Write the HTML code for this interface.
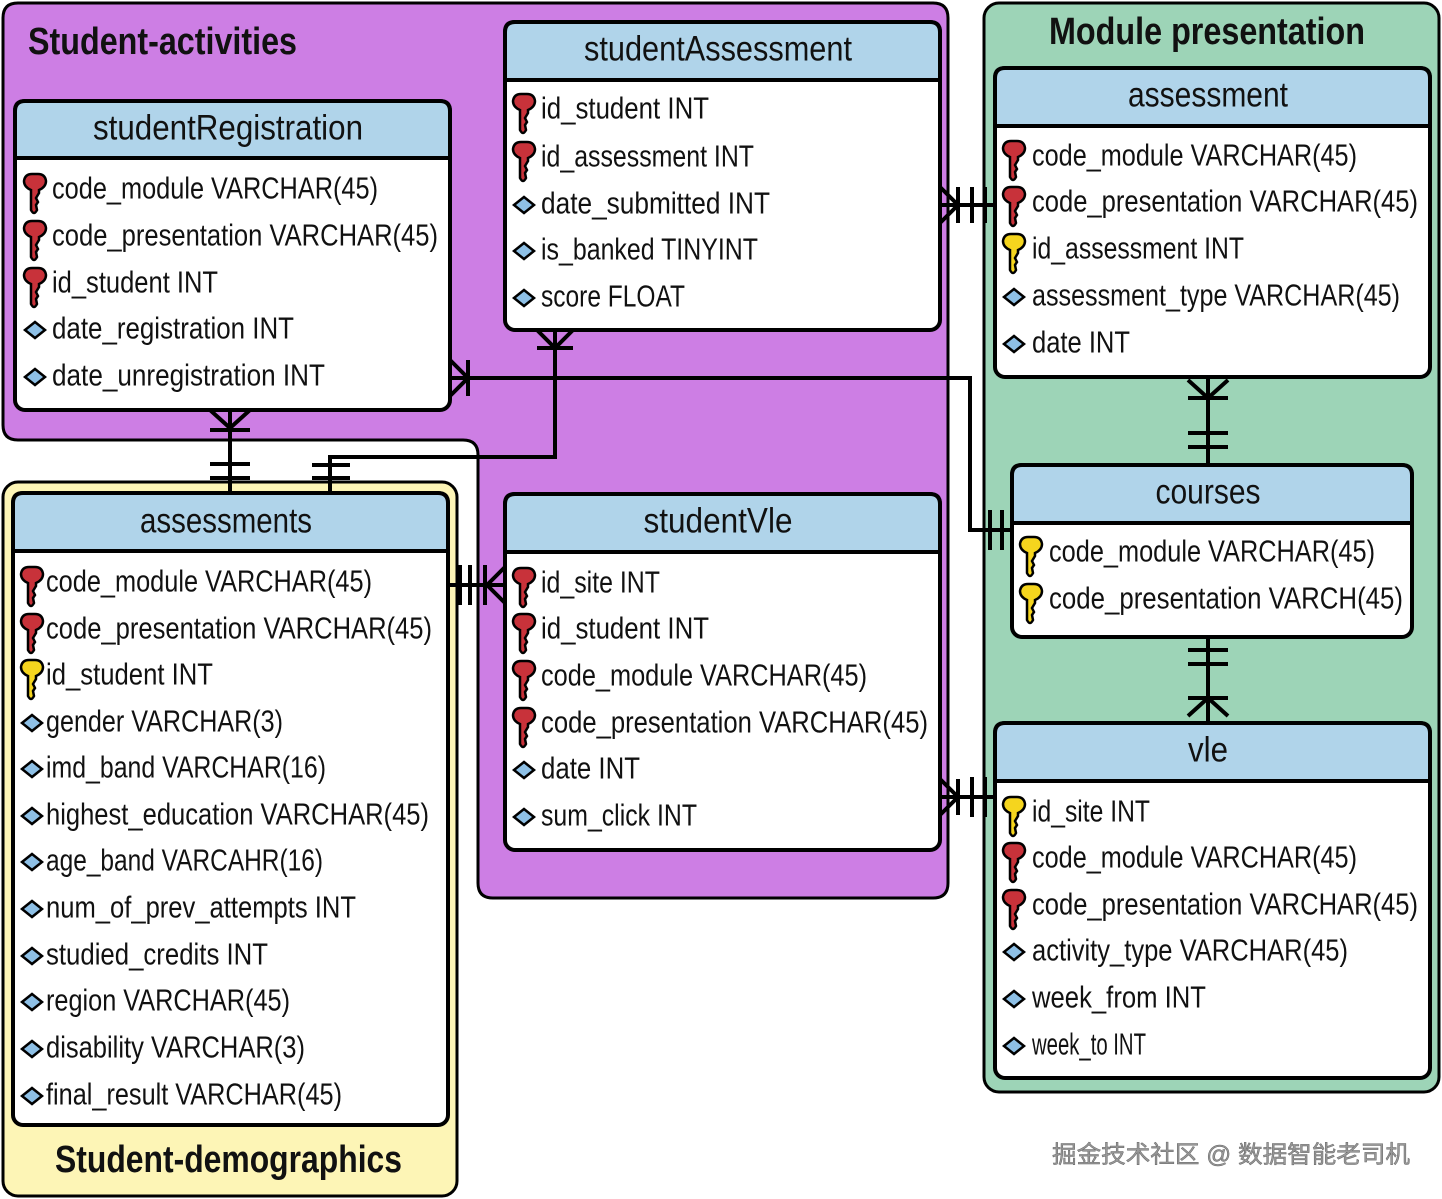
<!DOCTYPE html>
<html><head><meta charset="utf-8"><style>
html,body{margin:0;padding:0;background:#fff;width:1442px;height:1199px;overflow:hidden}
svg text{font-family:"Liberation Sans","Noto Sans CJK SC",sans-serif;fill:#111}
.r{font-size:31px;dominant-baseline:central}
.h{font-size:35px;dominant-baseline:central;text-anchor:middle}
.t{font-size:38px;font-weight:bold;dominant-baseline:central}
</style></head><body>
<svg width="1442" height="1199" viewBox="0 0 1442 1199" xmlns="http://www.w3.org/2000/svg">
<defs>
<g id="kr"><path d="M-3,-16 Q-10,-16 -11,-9 Q-11,-3 -4,0 L-4,20 Q-1,26 2,20 L1,15 L3,12 L1,8 L4,3 L4,0 Q11,-3 11,-9 Q10,-16 3,-16 Z" fill="#c8323a" stroke="#000" stroke-width="2.5"/></g>
<g id="ky"><path d="M-3,-16 Q-10,-16 -11,-9 Q-11,-3 -4,0 L-4,20 Q-1,26 2,20 L1,15 L3,12 L1,8 L4,3 L4,0 Q11,-3 11,-9 Q10,-16 3,-16 Z" fill="#f5d51e" stroke="#000" stroke-width="2.5"/></g>
<g id="dm"><path d="M-10,0 L0,-8 L10,0 L0,8 Z" fill="#8ec0e6" stroke="#000" stroke-width="2.5"/></g>
</defs>

<path d="M18,3 H933 Q948,3 948,18 V883 Q948,898 933,898 H493 Q478,898 478,883 V455 Q478,440 463,440 H18 Q3,440 3,425 V18 Q3,3 18,3 Z" fill="#cd7ee4" stroke="#000" stroke-width="3"/>
<rect x="3" y="482" width="454" height="714" rx="15" fill="#fdf5b6" stroke="#000" stroke-width="3"/>
<rect x="984" y="3" width="455" height="1089" rx="15" fill="#9dd4b7" stroke="#000" stroke-width="3"/>

<text class="t" x="28" y="42" textLength="269" lengthAdjust="spacingAndGlyphs">Student-activities</text>
<text class="t" x="1049" y="32" textLength="316" lengthAdjust="spacingAndGlyphs">Module presentation</text>
<text class="t" x="55" y="1160" textLength="347" lengthAdjust="spacingAndGlyphs">Student-demographics</text>

<g stroke="#000" stroke-width="4" fill="none">
<path d="M450,378 H970 V530 H1012"/>
<path d="M450,360 L468,378 L450,396 M468,360 V396"/>
<path d="M990,510 V550 M1002,510 V550"/>
<path d="M555,330 V457 H330 V493"/>
<path d="M537,330 L555,348 L573,330 M537,348 H573"/>
<path d="M312,465 H350 M312,478 H350"/>
<path d="M230,410 V493"/>
<path d="M210,410 L230,428 L250,410 M210,430 H250"/>
<path d="M210,464 H250 M210,478 H250"/>
<path d="M448,585 H505"/>
<path d="M460,565 V605 M470,565 V605"/>
<path d="M505,567 L487,585 L505,603 M485,565 V605"/>
<path d="M940,205 H995"/>
<path d="M940,187 L958,205 L940,223 M958,187 V223"/>
<path d="M972,187 V223 M985,187 V223"/>
<path d="M1208,377 V465"/>
<path d="M1188,380 L1208,398 L1228,380 M1188,398 H1228"/>
<path d="M1188,433 H1228 M1188,447 H1228"/>
<path d="M1208,637 V723"/>
<path d="M1188,650 H1228 M1188,664 H1228"/>
<path d="M1188,716 L1208,698 L1228,716 M1188,698 H1228"/>
<path d="M940,797 H995"/>
<path d="M940,779 L958,797 L940,815 M958,779 V815"/>
<path d="M972,777 V817 M985,777 V817"/>
</g>

<g stroke="#000" stroke-width="4">
<rect x="15" y="101" width="435" height="309" rx="10" fill="#fff"/>
<path d="M15,158 V111 Q15,101 25,101 H440 Q450,101 450,111 V158 Z" fill="#b0d4ea"/>
<rect x="505" y="22" width="435" height="308" rx="10" fill="#fff"/>
<path d="M505,80 V32 Q505,22 515,22 H930 Q940,22 940,32 V80 Z" fill="#b0d4ea"/>
<rect x="995" y="68" width="435" height="309" rx="10" fill="#fff"/>
<path d="M995,126 V78 Q995,68 1005,68 H1420 Q1430,68 1430,78 V126 Z" fill="#b0d4ea"/>
<rect x="1012" y="465" width="400" height="172" rx="10" fill="#fff"/>
<path d="M1012,523 V475 Q1012,465 1022,465 H1402 Q1412,465 1412,475 V523 Z" fill="#b0d4ea"/>
<rect x="995" y="723" width="435" height="355" rx="10" fill="#fff"/>
<path d="M995,781 V733 Q995,723 1005,723 H1420 Q1430,723 1430,733 V781 Z" fill="#b0d4ea"/>
<rect x="13" y="493" width="435" height="632" rx="10" fill="#fff"/>
<path d="M13,551 V503 Q13,493 23,493 H438 Q448,493 448,503 V551 Z" fill="#b0d4ea"/>
<rect x="505" y="494" width="435" height="356" rx="10" fill="#fff"/>
<path d="M505,552 V504 Q505,494 515,494 H930 Q940,494 940,504 V552 Z" fill="#b0d4ea"/>
</g>

<text class="h" x="228" y="128" textLength="270" lengthAdjust="spacingAndGlyphs">studentRegistration</text>
<text class="h" x="718" y="49" textLength="268" lengthAdjust="spacingAndGlyphs">studentAssessment</text>
<text class="h" x="1208" y="95" textLength="160" lengthAdjust="spacingAndGlyphs">assessment</text>
<text class="h" x="1208" y="492" textLength="105" lengthAdjust="spacingAndGlyphs">courses</text>
<text class="h" x="1208" y="750" textLength="40" lengthAdjust="spacingAndGlyphs">vle</text>
<text class="h" x="226" y="521" textLength="172" lengthAdjust="spacingAndGlyphs">assessments</text>
<text class="h" x="718" y="521" textLength="149" lengthAdjust="spacingAndGlyphs">studentVle</text>

<use href="#kr" x="35" y="190"/><use href="#kr" x="35" y="237"/><use href="#kr" x="35" y="284"/>
<use href="#dm" x="35" y="330"/><use href="#dm" x="35" y="377"/>
<text class="r" x="52" y="188" textLength="326" lengthAdjust="spacingAndGlyphs">code_module VARCHAR(45)</text>
<text class="r" x="52" y="235" textLength="386" lengthAdjust="spacingAndGlyphs">code_presentation VARCHAR(45)</text>
<text class="r" x="52" y="282" textLength="166" lengthAdjust="spacingAndGlyphs">id_student INT</text>
<text class="r" x="52" y="328" textLength="242" lengthAdjust="spacingAndGlyphs">date_registration INT</text>
<text class="r" x="52" y="375" textLength="273" lengthAdjust="spacingAndGlyphs">date_unregistration INT</text>

<use href="#kr" x="524" y="110"/><use href="#kr" x="524" y="158"/>
<use href="#dm" x="524" y="205"/><use href="#dm" x="524" y="251"/><use href="#dm" x="524" y="298"/>
<text class="r" x="541" y="108" textLength="168" lengthAdjust="spacingAndGlyphs">id_student INT</text>
<text class="r" x="541" y="156" textLength="213" lengthAdjust="spacingAndGlyphs">id_assessment INT</text>
<text class="r" x="541" y="203" textLength="229" lengthAdjust="spacingAndGlyphs">date_submitted INT</text>
<text class="r" x="541" y="249" textLength="217" lengthAdjust="spacingAndGlyphs">is_banked TINYINT</text>
<text class="r" x="541" y="296" textLength="144" lengthAdjust="spacingAndGlyphs">score FLOAT</text>

<use href="#kr" x="1014" y="157"/><use href="#kr" x="1014" y="203"/><use href="#ky" x="1014" y="250"/>
<use href="#dm" x="1014" y="297"/><use href="#dm" x="1014" y="344"/>
<text class="r" x="1032" y="155" textLength="325" lengthAdjust="spacingAndGlyphs">code_module VARCHAR(45)</text>
<text class="r" x="1032" y="201" textLength="386" lengthAdjust="spacingAndGlyphs">code_presentation VARCHAR(45)</text>
<text class="r" x="1032" y="248" textLength="212" lengthAdjust="spacingAndGlyphs">id_assessment INT</text>
<text class="r" x="1032" y="295" textLength="368" lengthAdjust="spacingAndGlyphs">assessment_type VARCHAR(45)</text>
<text class="r" x="1032" y="342" textLength="98" lengthAdjust="spacingAndGlyphs">date INT</text>

<use href="#ky" x="1031" y="553"/><use href="#ky" x="1031" y="600"/>
<text class="r" x="1049" y="551" textLength="326" lengthAdjust="spacingAndGlyphs">code_module VARCHAR(45)</text>
<text class="r" x="1049" y="598" textLength="354" lengthAdjust="spacingAndGlyphs">code_presentation VARCH(45)</text>

<use href="#ky" x="1014" y="813"/><use href="#kr" x="1014" y="859"/><use href="#kr" x="1014" y="906"/>
<use href="#dm" x="1014" y="952"/><use href="#dm" x="1014" y="999"/><use href="#dm" x="1014" y="1046"/>
<text class="r" x="1032" y="811" textLength="118" lengthAdjust="spacingAndGlyphs">id_site INT</text>
<text class="r" x="1032" y="857" textLength="325" lengthAdjust="spacingAndGlyphs">code_module VARCHAR(45)</text>
<text class="r" x="1032" y="904" textLength="386" lengthAdjust="spacingAndGlyphs">code_presentation VARCHAR(45)</text>
<text class="r" x="1032" y="950" textLength="316" lengthAdjust="spacingAndGlyphs">activity_type VARCHAR(45)</text>
<text class="r" x="1032" y="997" textLength="174" lengthAdjust="spacingAndGlyphs">week_from INT</text>
<text class="r" x="1032" y="1044" textLength="114" lengthAdjust="spacingAndGlyphs">week_to INT</text>

<use href="#kr" x="32" y="583"/><use href="#kr" x="32" y="630"/><use href="#ky" x="32" y="676"/>
<use href="#dm" x="32" y="723"/><use href="#dm" x="32" y="769"/><use href="#dm" x="32" y="816"/><use href="#dm" x="32" y="862"/><use href="#dm" x="32" y="909"/><use href="#dm" x="32" y="956"/><use href="#dm" x="32" y="1002"/><use href="#dm" x="32" y="1049"/><use href="#dm" x="32" y="1096"/>
<text class="r" x="46" y="581" textLength="326" lengthAdjust="spacingAndGlyphs">code_module VARCHAR(45)</text>
<text class="r" x="46" y="628" textLength="386" lengthAdjust="spacingAndGlyphs">code_presentation VARCHAR(45)</text>
<text class="r" x="46" y="674" textLength="167" lengthAdjust="spacingAndGlyphs">id_student INT</text>
<text class="r" x="46" y="721" textLength="237" lengthAdjust="spacingAndGlyphs">gender VARCHAR(3)</text>
<text class="r" x="46" y="767" textLength="280" lengthAdjust="spacingAndGlyphs">imd_band VARCHAR(16)</text>
<text class="r" x="46" y="814" textLength="383" lengthAdjust="spacingAndGlyphs">highest_education VARCHAR(45)</text>
<text class="r" x="46" y="860" textLength="277" lengthAdjust="spacingAndGlyphs">age_band VARCAHR(16)</text>
<text class="r" x="46" y="907" textLength="310" lengthAdjust="spacingAndGlyphs">num_of_prev_attempts INT</text>
<text class="r" x="46" y="954" textLength="222" lengthAdjust="spacingAndGlyphs">studied_credits INT</text>
<text class="r" x="46" y="1000" textLength="244" lengthAdjust="spacingAndGlyphs">region VARCHAR(45)</text>
<text class="r" x="46" y="1047" textLength="259" lengthAdjust="spacingAndGlyphs">disability VARCHAR(3)</text>
<text class="r" x="46" y="1094" textLength="296" lengthAdjust="spacingAndGlyphs">final_result VARCHAR(45)</text>

<use href="#kr" x="524" y="584"/><use href="#kr" x="524" y="630"/><use href="#kr" x="524" y="677"/><use href="#kr" x="524" y="724"/>
<use href="#dm" x="524" y="770"/><use href="#dm" x="524" y="817"/>
<text class="r" x="541" y="582" textLength="119" lengthAdjust="spacingAndGlyphs">id_site INT</text>
<text class="r" x="541" y="628" textLength="168" lengthAdjust="spacingAndGlyphs">id_student INT</text>
<text class="r" x="541" y="675" textLength="326" lengthAdjust="spacingAndGlyphs">code_module VARCHAR(45)</text>
<text class="r" x="541" y="722" textLength="387" lengthAdjust="spacingAndGlyphs">code_presentation VARCHAR(45)</text>
<text class="r" x="541" y="768" textLength="99" lengthAdjust="spacingAndGlyphs">date INT</text>
<text class="r" x="541" y="815" textLength="156" lengthAdjust="spacingAndGlyphs">sum_click INT</text>

<text x="1052" y="1155" style="font-size:24px;dominant-baseline:central;fill:#999;stroke:#666;stroke-width:0.5" textLength="358" lengthAdjust="spacingAndGlyphs">掘金技术社区 @ 数据智能老司机</text>
</svg>
</body></html>
